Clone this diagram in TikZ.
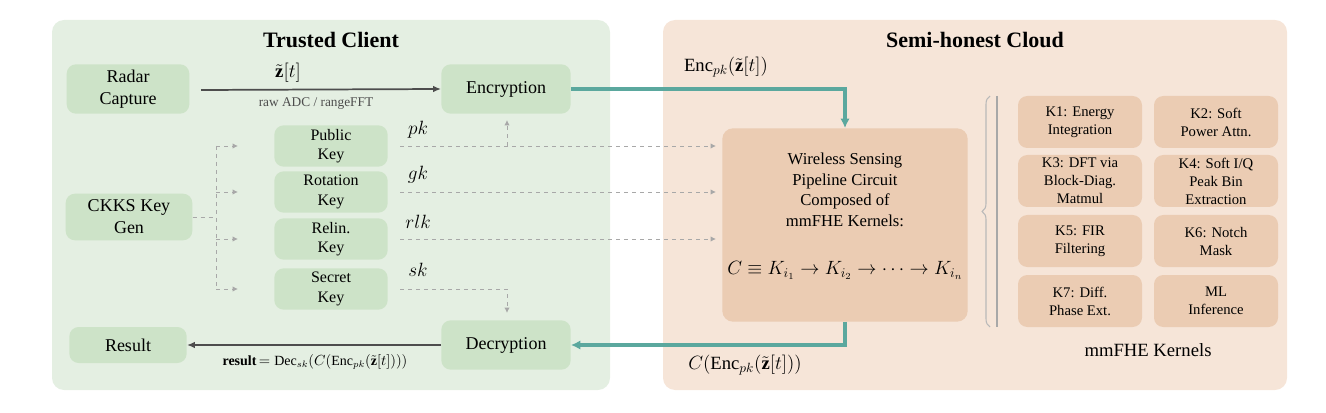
\documentclass[tikz,border=0pt]{standalone}
\usepackage{fontspec}
\setmainfont{Liberation Serif}
\usepackage{amsmath,amssymb}
\usetikzlibrary{arrows.meta,decorations.pathreplacing}
\definecolor{leftbg}{HTML}{E4EFE2}
\definecolor{rightbg}{HTML}{F6E5D8}
\definecolor{gbox}{HTML}{CDE3C8}
\definecolor{obox}{HTML}{EBCCB3}
\definecolor{teal}{HTML}{5BA89E}
\definecolor{dark}{HTML}{4D4D4D}
\definecolor{dgray}{HTML}{A8A8A8}
\begin{document}
\begin{tikzpicture}[x=0.75pt,y=-0.75pt,
  panel/.style={rounded corners=9pt},
  gnode/.style={fill=gbox,rounded corners=7pt,align=center,font=\fontsize{13.5}{16.5}\selectfont,inner sep=0pt},
  knode/.style={fill=obox,rounded corners=7pt,align=center,font=\fontsize{11}{13.5}\selectfont,inner sep=0pt,minimum width=93pt,minimum height=39pt},
  keynode/.style={gnode,minimum width=85pt,minimum height=31pt,font=\fontsize{12}{14.5}\selectfont},
  darr/.style={dark,line width=1.3pt,-{Latex[length=6pt,width=5pt]}},
  dasharr/.style={dgray,dashed,line width=0.7pt,-{Latex[length=4pt,width=4pt]}},
  dashl/.style={dgray,dashed,line width=0.7pt},
  tarr/.style={teal,line width=2.5pt,-{Latex[length=7pt,width=7pt]}},
  klab/.style={font=\fontsize{15}{17}\selectfont}]
\useasboundingbox (0,0) rectangle (1326,413);
\fill[leftbg,panel] (52,20) rectangle (610,390);
\fill[rightbg,panel] (663,20) rectangle (1287,390);
\node[font=\fontsize{16.5}{19}\selectfont\bfseries] (t1) at (331,40) {Trusted Client};
\node[font=\fontsize{16.5}{19}\selectfont\bfseries] (t2) at (975,40) {Semi-honest Cloud};
\node[gnode,minimum width=92pt,minimum height=37pt] (radar) at (128,89) {Radar\\Capture};
\node[gnode,minimum width=97pt,minimum height=37pt] (enc) at (506,89) {Encryption};
\node[gnode,minimum width=95pt,minimum height=35pt] (ckks) at (129,217) {CKKS Key\\Gen};
\node[gnode,minimum width=88pt,minimum height=27pt] (res) at (128,345) {Result};
\node[gnode,minimum width=97pt,minimum height=37pt] (dec) at (506,345) {Decryption};
\node[keynode] (pk) at (331,146) {Public\\Key};
\node[keynode] (gk) at (331,192) {Rotation\\Key};
\node[keynode] (rlk) at (331,239) {Relin.\\Key};
\node[keynode] (sk) at (331,289) {Secret\\Key};
\node[fill=obox,rounded corners=8pt,minimum width=184pt,minimum height=145pt,inner sep=0pt] (circ) at (845,225) {};
\node[align=center,font=\fontsize{12.5}{15.5}\selectfont] (ctext) at (845,190) {Wireless Sensing\\Pipeline Circuit\\Composed of\\mmFHE Kernels:};
\node[font=\fontsize{14}{16}\selectfont] (cform) at (845,270) {$C\equiv K_{i_1}\rightarrow K_{i_2}\rightarrow\cdots\rightarrow K_{i_n}$};
% kernels
\node[knode] (k1) at (1080,122) {K1: Energy\\Integration};
\node[knode] (k2) at (1216,122) {K2: Soft\\Power Attn.};
\node[knode] (k3) at (1080,181) {K3: DFT via\\Block-Diag.\\Matmul};
\node[knode] (k4) at (1216,181) {K4: Soft I/Q\\Peak Bin\\Extraction};
\node[knode] (k5) at (1080,241) {K5: FIR\\Filtering};
\node[knode] (k6) at (1216,241) {K6: Notch\\Mask};
\node[knode] (k7) at (1080,301) {K7: Diff.\\Phase Ext.};
\node[knode] (k8) at (1216,301) {ML\\Inference};
\node[font=\fontsize{14}{16}\selectfont] (kt) at (1148,350) {mmFHE Kernels};
\coordinate (dt) at (997,96); \coordinate (db) at (997,327);
\draw[dgray,line width=1pt] (dt) -- (db);
\coordinate (bt) at (990,96); \coordinate (bb) at (990,327);
\draw[dgray!80,line width=0.8pt,decorate,decoration={brace,amplitude=6pt}] (bb) -- (bt);
% top arrow
\draw[darr] (201,90) -- (enc.west);
\node[font=\fontsize{14}{16}\selectfont] (zl) at (288,73) {$\tilde{\mathbf z}[t]$};
\node[font=\fontsize{10}{12}\selectfont,text=dark] (rl) at (316,104) {raw ADC / rangeFFT};
% result arrow
\draw[darr] (dec.west) -- (res.east);
\node[font=\fontsize{10.5}{12}\selectfont] (resl) at (315,362) {\textbf{result}$\,=\mathrm{Dec}_{sk}(C(\mathrm{Enc}_{pk}(\tilde{\mathbf z}[t])))$};
% key gen dashed
\coordinate (kg) at (216,217);
\draw[dashl] (ckks.east) -- (kg);
\draw[dashl] (216,146) -- (216,289);
\draw[dasharr] (216,146) -- (238,146);
\draw[dasharr] (216,192) -- (238,192);
\draw[dasharr] (216,239) -- (238,239);
\draw[dasharr] (216,289) -- (238,289);
\draw[dasharr] (400,146) -- (716,146);
\draw[dasharr] (400,192) -- (716,192);
\draw[dasharr] (400,239) -- (716,239);
\draw[dasharr] (507,146) -- (507,120);
\draw[dasharr] (400,289) -- (507,289) -- (507,313);
\node[klab] (lpk) at (418,130) {$pk$};
\node[klab] (lgk) at (418,175) {$gk$};
\node[klab] (lrlk) at (418,222) {$rlk$};
\node[klab] (lsk) at (418,270) {$sk$};
% teal
\draw[tarr] (enc.east) -- (845,89) -- (circ.north);
\draw[tarr] (circ.south) -- (845,345) -- (dec.east);
\node[font=\fontsize{14}{16}\selectfont] (el) at (726,67) {$\mathrm{Enc}_{pk}(\tilde{\mathbf z}[t])$};
\node[font=\fontsize{14}{16}\selectfont] (cl) at (745,365) {$C(\mathrm{Enc}_{pk}(\tilde{\mathbf z}[t]))$};
\end{tikzpicture}
\end{document}
